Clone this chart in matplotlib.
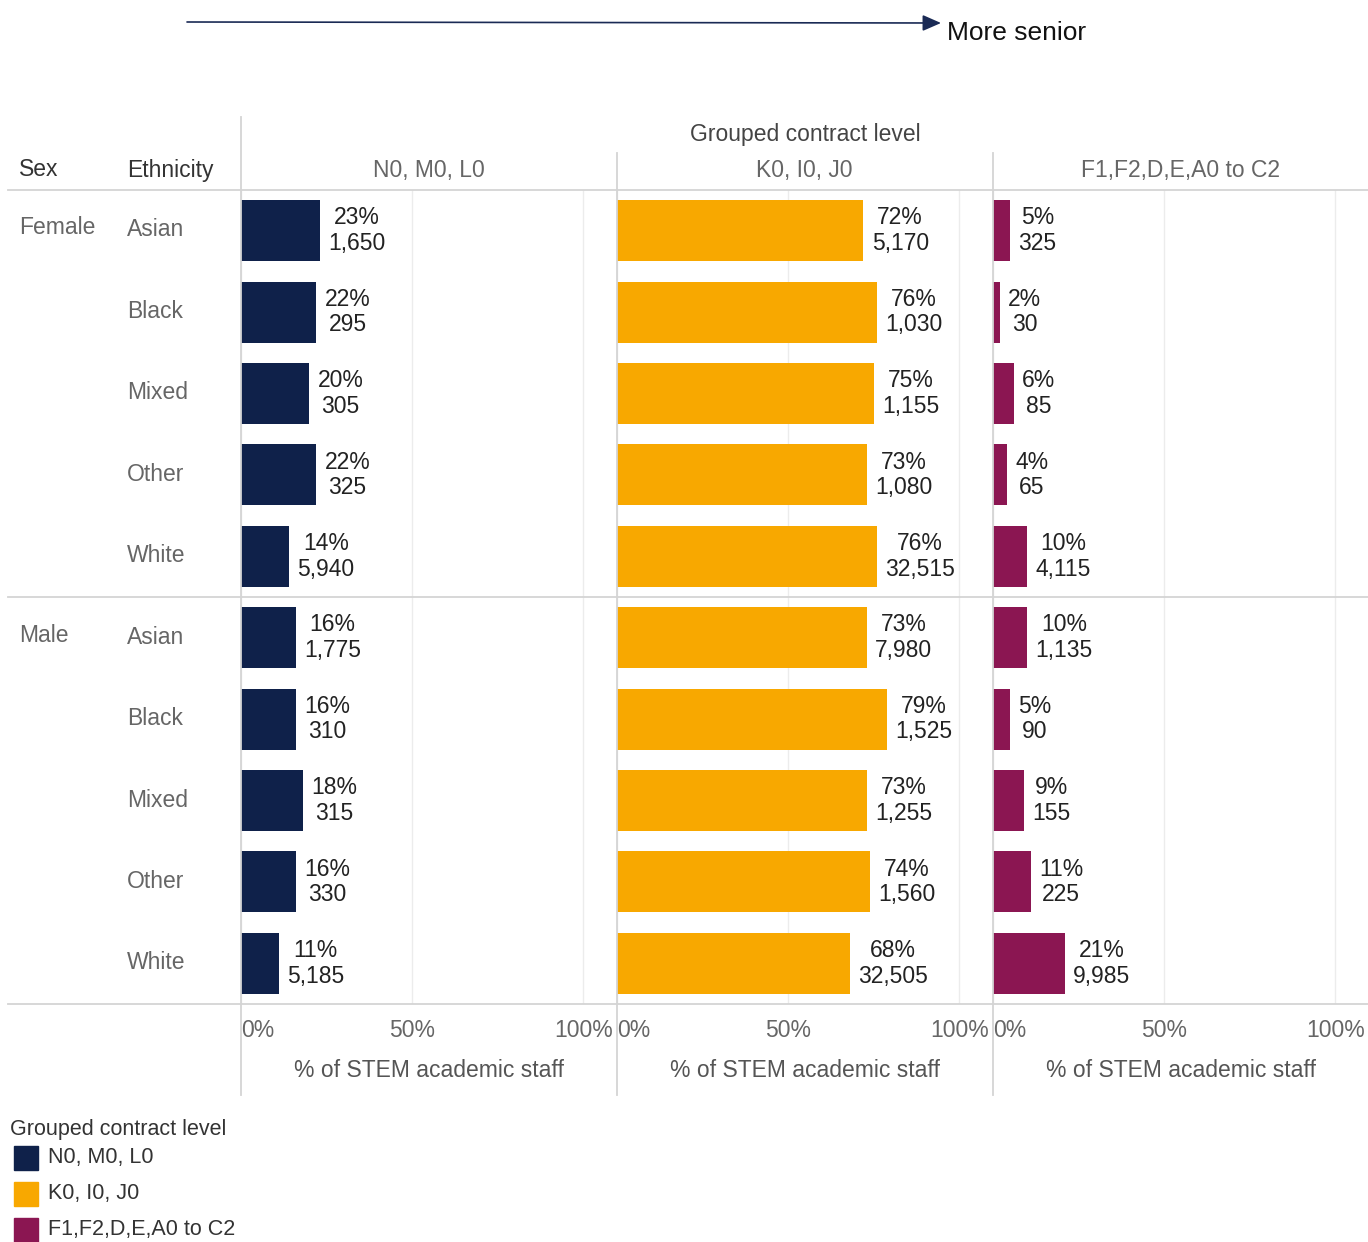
import matplotlib
matplotlib.use("Agg")
import matplotlib.pyplot as plt
from matplotlib.lines import Line2D
from matplotlib.patches import Rectangle, FancyArrowPatch

plt.rcParams['font.family'] = ['Liberation Sans', 'DejaVu Sans']

# ---------------- data ----------------
sexes = ["Female", "Male"]
ethnicities = ["Asian", "Black", "Mixed", "Other", "White"]
levels = ["N0, M0, L0", "K0, I0, J0", "F1,F2,D,E,A0 to C2"]
colors = ["#0f214a", "#f8a800", "#8b1652"]

pct_n0 = [23, 22, 20, 22, 14, 16, 16, 18, 16, 11]
cnt_n0 = [1650, 295, 305, 325, 5940, 1775, 310, 315, 330, 5185]
pct_k0 = [72, 76, 75, 73, 76, 73, 79, 73, 74, 68]
cnt_k0 = [5170, 1030, 1155, 1080, 32515, 7980, 1525, 1255, 1560, 32505]
pct_f1 = [5, 2, 6, 4, 10, 10, 5, 9, 11, 21]
cnt_f1 = [325, 30, 85, 65, 4115, 1135, 90, 155, 225, 9985]

tick_vals = [0, 0.5, 1.0]
tick_labels = ["0%", "50%", "100%"]
xlabel = "% of STEM academic staff"

pcts = [pct_n0, pct_k0, pct_f1]
cnts = [cnt_n0, cnt_k0, cnt_f1]

# ---------------- layout ----------------
W, H = 1368, 1242
fig = plt.figure(figsize=(W / 100, H / 100), dpi=100)

def fx(px):
    return px / W

def fy(py):
    return 1 - py / H

GRID = "#d4d4d4"
TXT = "#666666"
DARK = "#333333"
FS = 16.5

def fline(x0, y0, x1, y1, color=GRID, lw=1.3):
    fig.add_artist(Line2D([fx(x0), fx(x1)], [fy(y0), fy(y1)],
                          transform=fig.transFigure, color=color, lw=lw))

panel_x = [(241, 616), (617, 992), (993, 1368)]
top, bottom = 190, 1004
n = len(pct_n0)

for k, (x0, x1) in enumerate(panel_x):
    ax = fig.add_axes([fx(x0), fy(bottom), fx(x1) - fx(x0), fy(top) - fy(bottom)])
    vals = [p / 100 for p in pcts[k]]
    ypos = list(range(n))
    ax.barh(ypos, vals, height=0.75, color=colors[k], zorder=3)
    for i in range(n):
        ax.annotate(f"{pcts[k][i]}%\n{cnts[k][i]:,}", (vals[i], i),
                    xytext=(6, 0), textcoords="offset points",
                    ha="left", va="center", multialignment="center",
                    fontsize=FS, color="#222222", linespacing=1.15, zorder=4)
    ax.set_xlim(0, 1.096)
    ax.set_ylim(n - 0.5, -0.5)
    ax.set_yticks([])
    ax.set_xticks(tick_vals)
    ax.set_xticklabels(tick_labels, fontsize=FS, color=TXT)
    labs = ax.get_xticklabels()
    labs[0].set_ha("left")
    ax.tick_params(axis="x", length=0, pad=11)
    ax.grid(axis="x", color="#ececec", lw=1.0, zorder=0)
    ax.set_axisbelow(True)
    for s in ax.spines.values():
        s.set_visible(False)
    ax.patch.set_alpha(0)
    ax.set_xlabel(xlabel, fontsize=FS, color="#555555", labelpad=12)
    # column header
    fig.text(fx((x0 + x1) / 2), fy(170), levels[k], ha="center", va="center",
             fontsize=FS, color=TXT)

# vertical separators
fline(241, 117, 241, 1095)
fline(616.5, 153, 616.5, 1095)
fline(992.5, 153, 992.5, 1095)
# horizontal separators
fline(8, 190, 1368, 190)
fline(8, 597, 1368, 597)
fline(8, 1004, 1368, 1004)

# headers
fig.text(fx(805), fy(134), "Grouped contract level", ha="center", va="center",
         fontsize=FS, color="#444444")
fig.text(fx(19), fy(170), "Sex", ha="left", va="center", fontsize=FS, color=DARK)
fig.text(fx(127), fy(170), "Ethnicity", ha="left", va="center", fontsize=FS, color=DARK)

row_y = [230 + i * 81.44 for i in range(n)]
for j, s in enumerate(sexes):
    fig.text(fx(19), fy(row_y[j * 5] - 2), s, ha="left", va="center",
             fontsize=FS, color=TXT)
    for e_i, e in enumerate(ethnicities):
        fig.text(fx(127), fy(row_y[j * 5 + e_i]), e, ha="left", va="center",
                 fontsize=FS, color=TXT)

# arrow
fig.add_artist(FancyArrowPatch(
    (fx(187), fy(22)), (fx(941), fy(23)), transform=fig.transFigure,
    arrowstyle="-|>,head_length=8,head_width=3.5", color="#1a2a55", lw=1.2,
    mutation_scale=1.4, shrinkA=0, shrinkB=0))
fig.text(fx(947), fy(33), "More senior", ha="left", va="center",
         fontsize=19, color="#111111")

# legend
fig.text(fx(10), fy(1130), "Grouped contract level", ha="left", va="center",
         fontsize=15.5, color=DARK)
for i, (lab, c) in enumerate(zip(levels, colors)):
    cy = 1158 + i * 36
    fig.add_artist(Rectangle((fx(14), fy(cy + 12)), fx(24), 24 / H,
                             transform=fig.transFigure, color=c))
    fig.text(fx(48), fy(cy), lab, ha="left", va="center", fontsize=15.5, color=DARK)

fig.savefig("out.png", dpi=100, facecolor="white")
